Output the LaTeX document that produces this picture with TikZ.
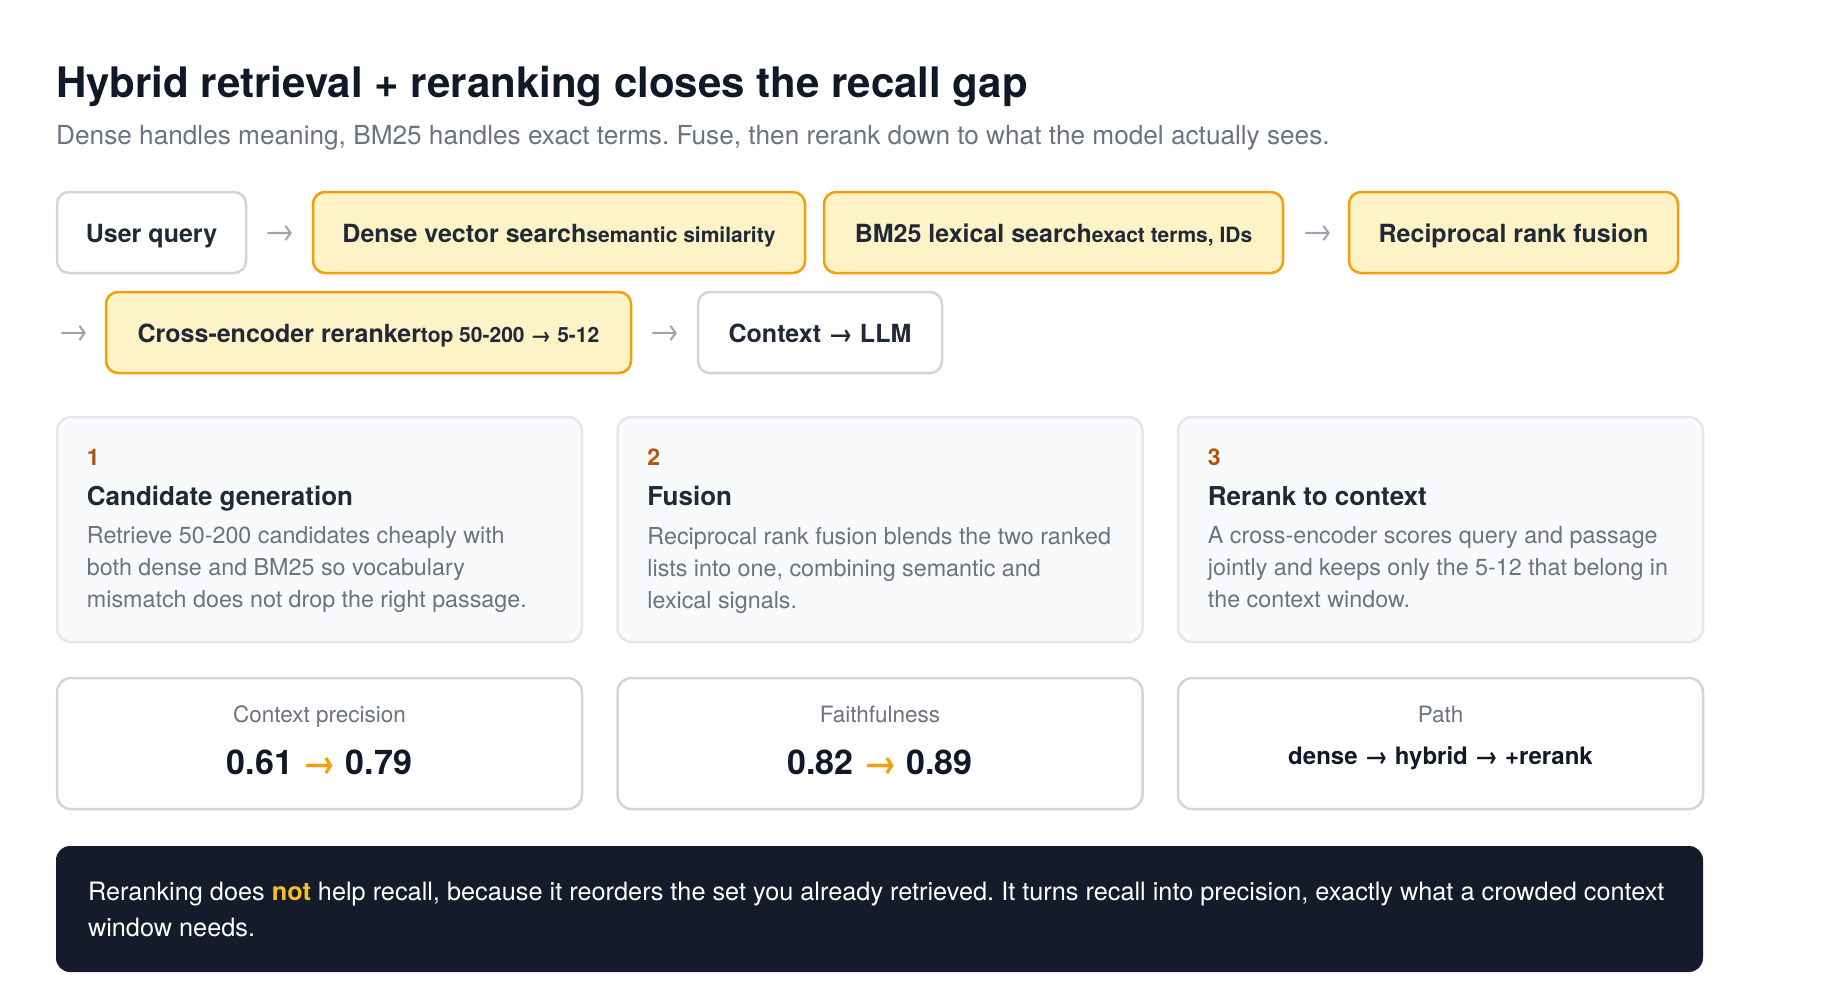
\documentclass[tikz,border=0pt]{standalone}
\usepackage{fontspec}
\setmainfont{TeX Gyre Heros}
\usetikzlibrary{positioning}
\frenchspacing
\definecolor{ink}{HTML}{111827}
\definecolor{inksoft}{HTML}{1F2937}
\definecolor{muted}{HTML}{6B7280}
\definecolor{edgegray}{HTML}{D1D5DB}
\definecolor{cardedge}{HTML}{E5E7EB}
\definecolor{cardfill}{HTML}{F8FAFC}
\definecolor{amber}{HTML}{F59E0B}
\definecolor{amberbg}{HTML}{FEF3C7}
\definecolor{rust}{HTML}{B45309}
\definecolor{flowgray}{HTML}{9CA3AF}
\definecolor{night}{HTML}{141B2B}
\definecolor{gold}{HTML}{FBBF24}
\tikzset{
    stage/.style = {draw=edgegray, line width=2.5pt, fill=white, rounded corners=12pt,
        minimum height=81pt, inner sep=0pt, text height=24pt, text depth=4pt, text=inksoft,
        font=\fontsize{25}{30}\selectfont\bfseries},
    hotstage/.style = {stage, draw=amber, fill=amberbg},
    flow/.style = {text=flowgray, inner sep=0pt, font=\fontsize{32}{36}\selectfont},
    card/.style = {draw=cardedge, line width=2.5pt, fill=cardfill, rounded corners=14pt,
        minimum width=525pt, minimum height=225pt, inner sep=0pt},
    metric/.style = {draw=edgegray, line width=2.5pt, fill=white, rounded corners=14pt,
        minimum width=525pt, minimum height=131pt, inner sep=0pt},
    stepnum/.style = {anchor=base west, inner sep=0pt, text=rust, font=\fontsize{23}{26}\selectfont\bfseries},
    steptitle/.style = {anchor=base west, inner sep=0pt, text=inksoft, font=\fontsize{26}{30}\selectfont\bfseries},
    steptext/.style = {anchor=north west, inner sep=0pt, align=left, text=muted,
        font=\fontsize{23.3}{32}\selectfont},
    metlabel/.style = {anchor=base, inner sep=0pt, text=muted, font=\fontsize{22.5}{26}\selectfont},
    metvalue/.style = {anchor=base, inner sep=0pt, text=ink, font=\fontsize{34}{38}\selectfont\bfseries}
}
\newcommand{\sub}[1]{{\fontsize{21}{24}\selectfont #1}}
\begin{document}
\begin{tikzpicture}[x=1pt, y=-1pt]
\useasboundingbox (0,0) rectangle (1840,989);

% heading
\node[anchor=base west, inner sep=0pt, text=ink, font=\fontsize{42}{48}\selectfont\bfseries]
    (title) at (56,97) {Hybrid retrieval + reranking closes the recall gap};
\node[anchor=base west, inner sep=0pt, text=muted, font=\fontsize{26.2}{30}\selectfont]
    (subtitle) at (56,144) {Dense handles meaning, BM25 handles exact terms. Fuse, then rerank down to what the model actually sees.};

% pipeline, first row
\node[stage, minimum width=189pt] (query) at (151.5,232.5) {User query};
\node[flow] (a1) at (279,234) {→};
\node[hotstage, minimum width=492pt] (dense) at (559,232.5) {Dense vector search\sub{semantic similarity}};
\node[hotstage, minimum width=459pt] (bm25) at (1053.5,232.5) {BM25 lexical search\sub{exact terms, IDs}};
\node[flow] (a2) at (1317,234) {→};
\node[hotstage, minimum width=329pt] (rrf) at (1513.5,232.5) {Reciprocal rank fusion};

% pipeline, second row
\node[flow] (a3) at (73,334) {→};
\node[hotstage, minimum width=525pt] (rerank) at (368.5,332.5) {Cross-encoder reranker\sub{top 50-200 → 5-12}};
\node[flow] (a4) at (664,334) {→};
\node[stage, minimum width=244pt] (llm) at (820,332.5) {Context → LLM};

% step cards
\foreach \cx/\n/\head/\body [count=\i] in {
    319.5/1/Candidate generation/{Retrieve 50-200 candidates cheaply with\\both dense and BM25 so vocabulary\\mismatch does not drop the right passage.},
    880/2/Fusion/{Reciprocal rank fusion blends the two ranked\\lists into one, combining semantic and\\lexical signals.},
    1440.5/3/Rerank to context/{A cross-encoder scores query and passage\\jointly and keeps only the 5-12 that belong in\\the context window.}}
{
    \node[card] (card\i) at (\cx,529.5) {};
    \node[stepnum] (num\i) at ([xshift=31pt, yshift=-50pt]card\i.north west) {\n};
    \node[steptitle] (head\i) at ([xshift=31pt, yshift=-90pt]card\i.north west) {\head};
    \node[steptext] (body\i) at ([xshift=31pt, yshift=-111pt]card\i.north west) {\body};
}

% metrics
\node[metric] (met1) at (319.5,743.5) {};
\node[metlabel] (lab1) at ([yshift=-46pt]met1.north) {Context precision};
\node[metvalue] (val1) at ([yshift=-98pt]met1.north) {0.61 \textcolor{amber}{→} 0.79};
\node[metric] (met2) at (880,743.5) {};
\node[metlabel] (lab2) at ([yshift=-46pt]met2.north) {Faithfulness};
\node[metvalue] (val2) at ([yshift=-98pt]met2.north) {0.82 \textcolor{amber}{→} 0.89};
\node[metric] (met3) at (1440.5,743.5) {};
\node[metlabel] (lab3) at ([yshift=-46pt]met3.north) {Path};
\node[metvalue, font=\fontsize{24}{28}\selectfont\bfseries] (val3) at ([yshift=-88pt]met3.north) {dense → hybrid → +rerank};

% takeaway
\node[fill=night, rounded corners=14pt, minimum width=1647pt, minimum height=126pt, inner sep=0pt]
    (note) at (879.5,909) {};
\node[anchor=north west, inner sep=0pt, align=left, text=white, font=\fontsize{25.3}{36.5}\selectfont]
    (notetext) at ([xshift=32pt, yshift=-36pt]note.north west)
    {Reranking does \textcolor{gold}{\bfseries not} help recall, because it reorders the set you already retrieved. It turns recall into precision, exactly what a crowded context\\window needs.};
\end{tikzpicture}
\end{document}
